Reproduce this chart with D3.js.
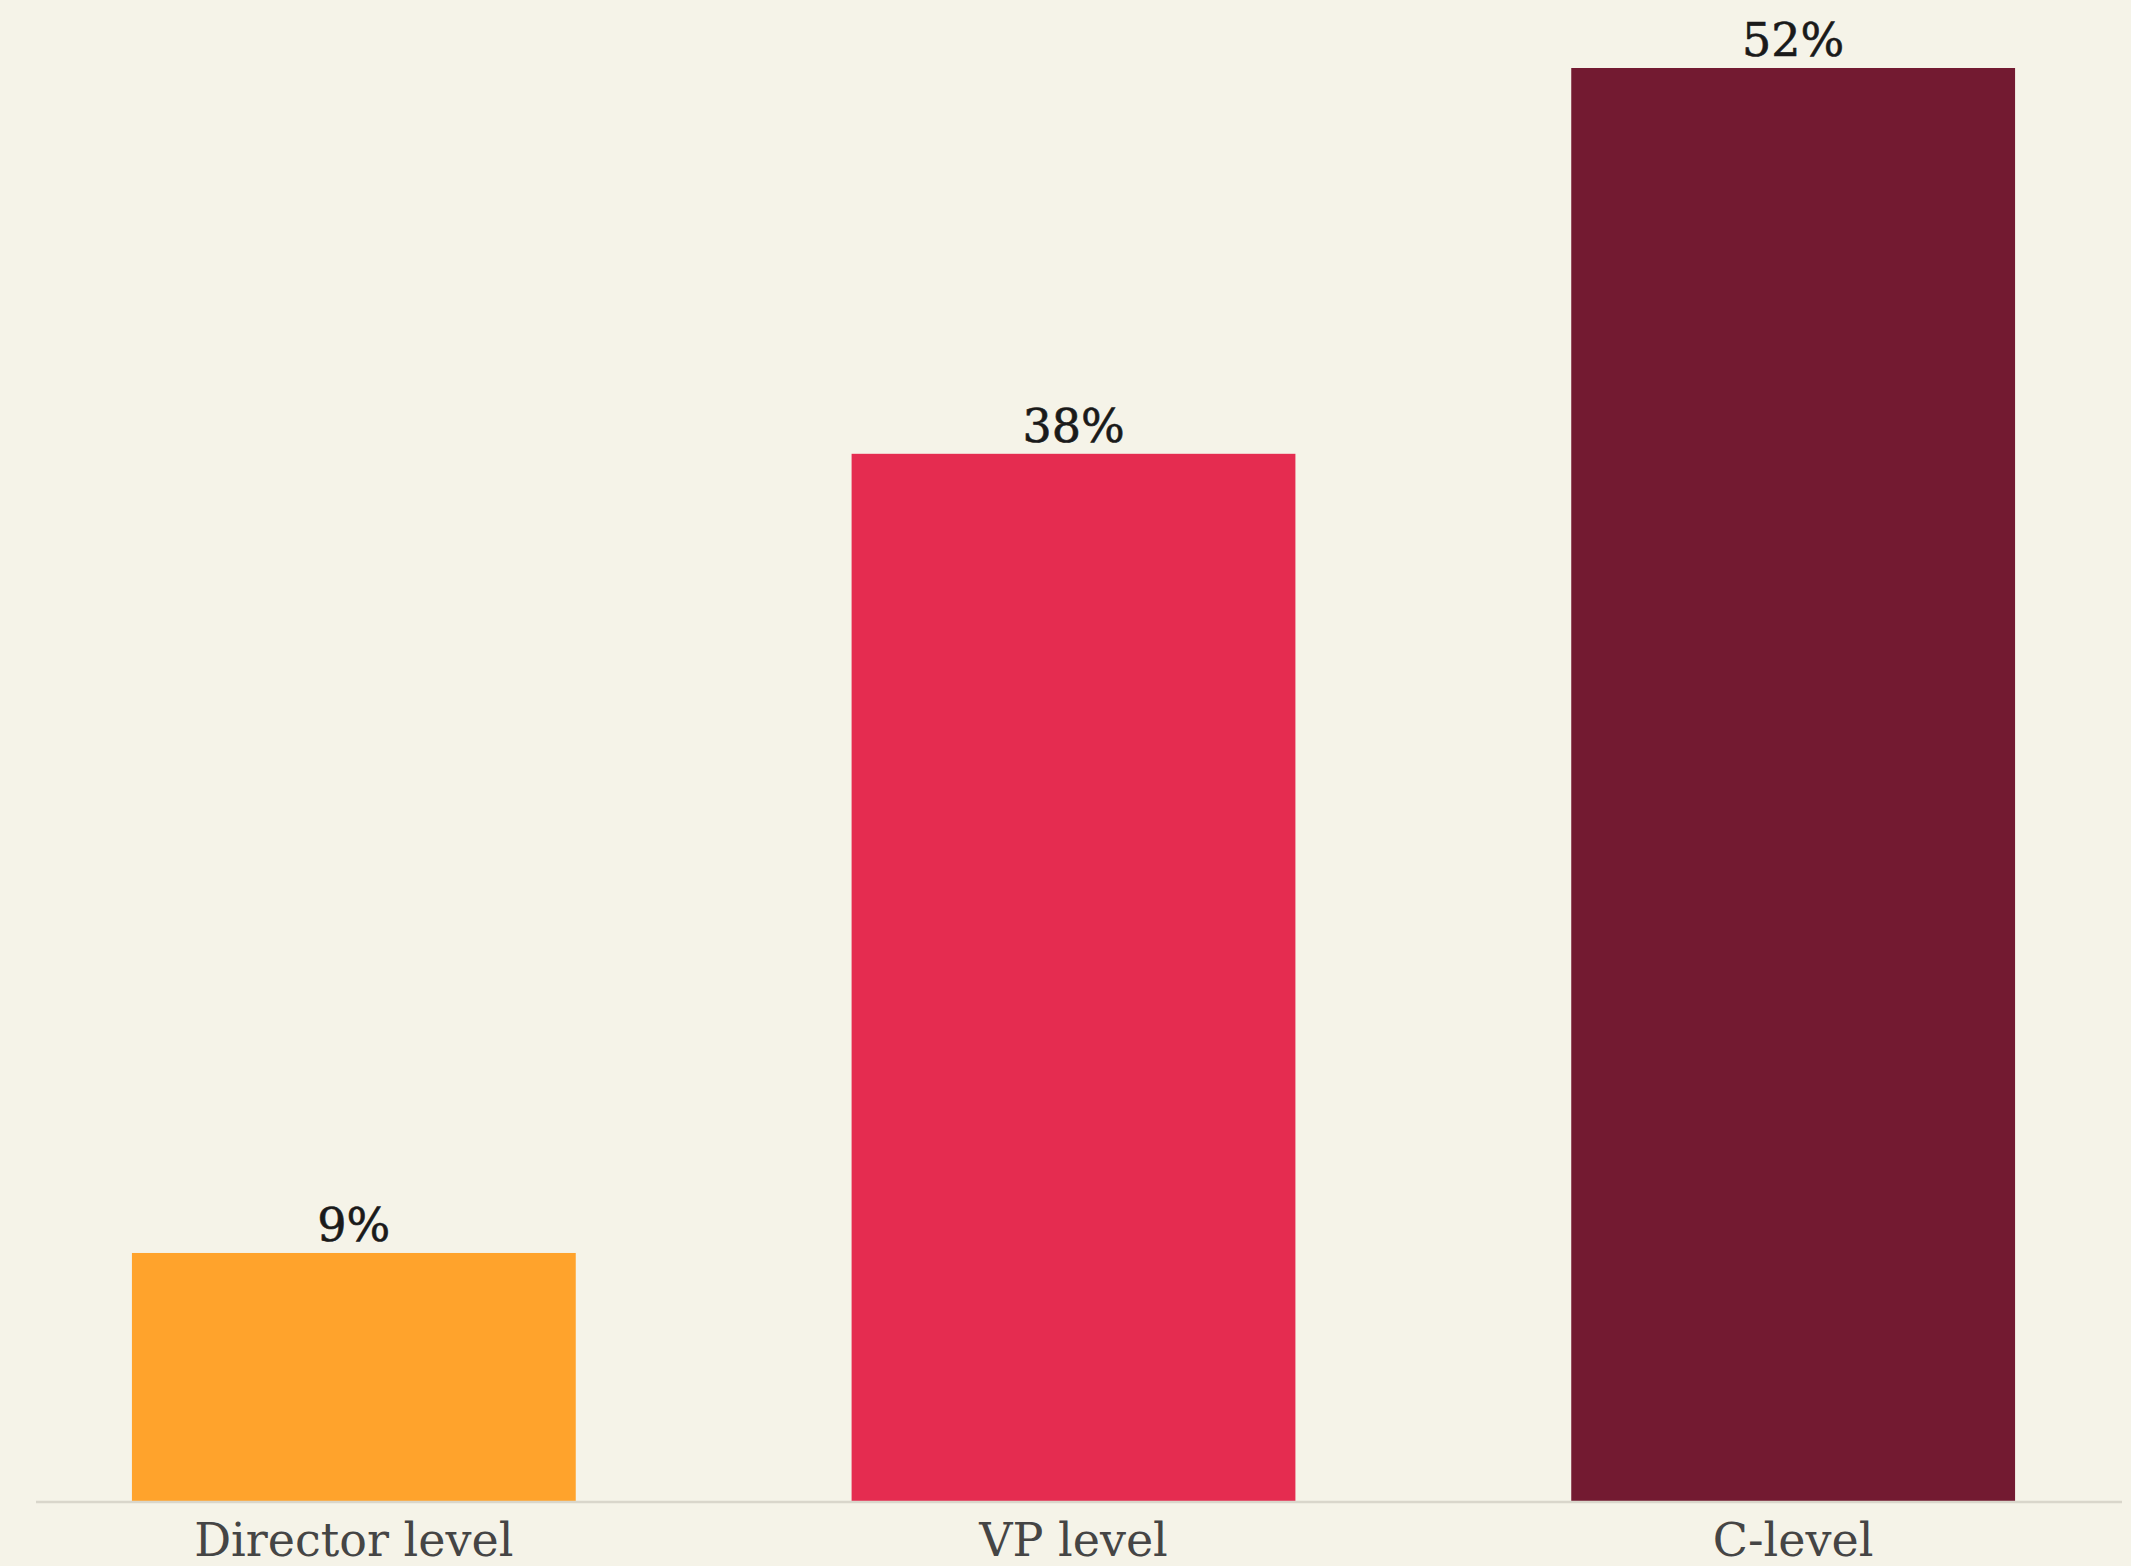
<!DOCTYPE html>
<html>
<head>
<meta charset="utf-8">
<script src="https://cdn.jsdelivr.net/npm/d3@7"></script>
<style>
  html, body { margin: 0; padding: 0; background: #f5f3e8; }
  svg { display: block; }
</style>
</head>
<body>
<svg id="chart" width="2131" height="1566"></svg>
<script>
const categories = ["Director level", "VP level", "C-level"];
const values = [9, 38, 52];
const valueLabels = ["9%", "38%", "52%"];
const colors = ["#ffa32c", "#e52c50", "#731a31"];

const W = 2131, H = 1566;
const svg = d3.select("#chart");
svg.append("rect").attr("width", W).attr("height", H).attr("fill", "#f5f3e8");

const baseY = 1501;
const x = d3.scaleBand()
  .domain(categories)
  .range([35.5, 2111.5])
  .paddingInner(0.3833)
  .paddingOuter(0.134);
const y = d3.scaleLinear().domain([0, 52]).range([baseY, 68]);

const data = categories.map((c, i) => ({ c, v: values[i], label: valueLabels[i], color: colors[i] }));

svg.selectAll("rect.bar").data(data).enter().append("rect")
  .attr("class", "bar")
  .attr("x", d => x(d.c))
  .attr("y", d => y(d.v))
  .attr("width", x.bandwidth())
  .attr("height", d => y(0) - y(d.v))
  .attr("fill", d => d.color);

// baseline
svg.append("line")
  .attr("x1", 36).attr("x2", 2122)
  .attr("y1", baseY + 1).attr("y2", baseY + 1)
  .attr("stroke", "#d9d6cb").attr("stroke-width", 2.5);

// value labels
svg.selectAll("text.val").data(data).enter().append("text")
  .attr("class", "val")
  .attr("x", d => x(d.c) + x.bandwidth() / 2)
  .attr("y", d => y(d.v) - 12)
  .attr("text-anchor", "middle")
  .attr("font-family", "'DejaVu Serif', serif")
  .attr("font-size", 46)
  .attr("fill", "#1a1a1a")
  .attr("stroke", "#1a1a1a")
  .attr("stroke-width", 0.6)
  .text(d => d.label);

// axis labels
const xAxis = d3.axisBottom(x).tickSize(0).tickPadding(0);
const gx = svg.append("g").attr("transform", `translate(0,${baseY})`).call(xAxis);
gx.select(".domain").remove();
gx.selectAll("text")
  .attr("dy", null)
  .attr("y", 55)
  .attr("font-family", "'DejaVu Serif', serif")
  .attr("font-size", 46)
  .attr("fill", "#454545");
</script>
</body>
</html>
